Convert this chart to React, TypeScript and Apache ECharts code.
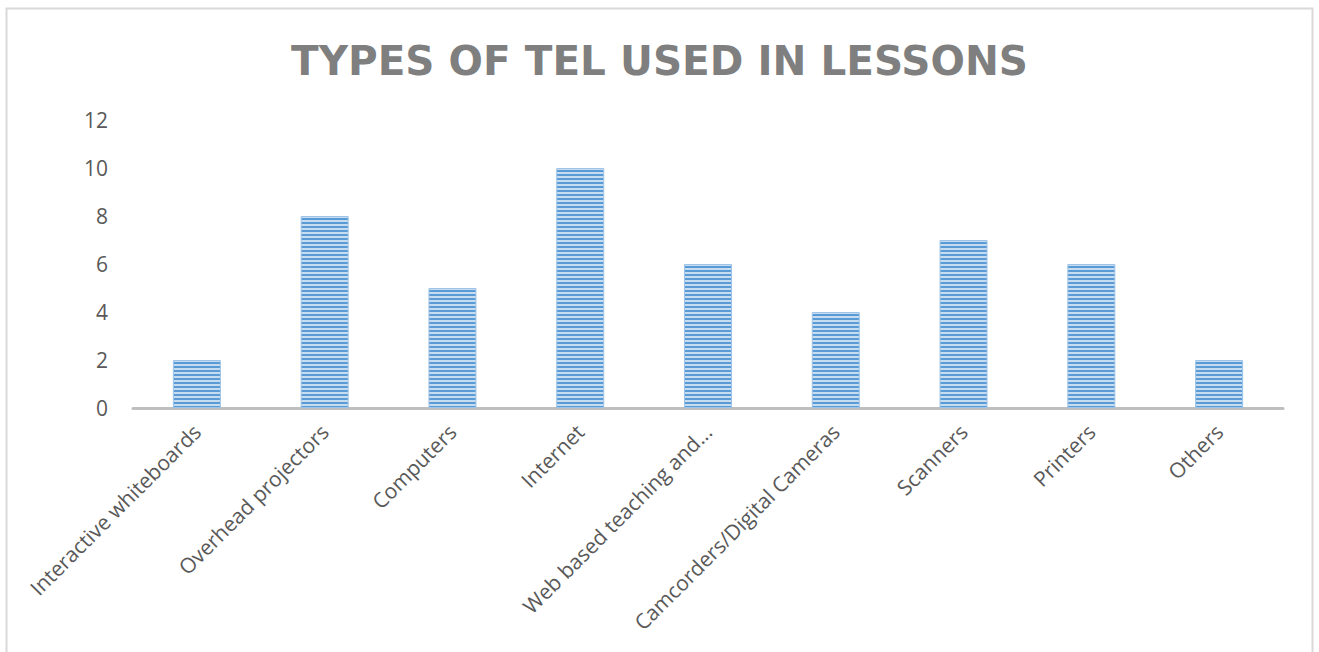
import React, { useEffect, useRef } from "react";
import * as echarts from "echarts";

const categories = [
  "Interactive whiteboards",
  "Overhead projectors",
  "Computers",
  "Internet",
  "Web based teaching and...",
  "Camcorders/Digital Cameras",
  "Scanners",
  "Printers",
  "Others",
];
const values = [2, 8, 5, 10, 6, 4, 7, 6, 2];
const titleText = "TYPES OF TEL USED IN LESSONS";

const W = 1319;
const H = 652;
const GRID = { left: 133, right: 36, top: 120, bottom: 244 };

function stripeGradient() {
  const top = GRID.top - 10;
  const bottom = H - GRID.bottom + 2;
  const period = 4;
  const stops: { offset: number; color: string }[] = [];
  const span = bottom - top;
  for (let y = 0; y < span; y += period) {
    const a = y / span;
    const b = Math.min((y + 2) / span, 1);
    const c = Math.min((y + period) / span, 1);
    stops.push({ offset: a, color: "#5b9bd5" });
    stops.push({ offset: b, color: "#5b9bd5" });
    stops.push({ offset: b, color: "#c5dcf1" });
    stops.push({ offset: c, color: "#c5dcf1" });
  }
  return new echarts.graphic.LinearGradient(0, top, 0, bottom, stops, true);
}

export default function App() {
  const ref = useRef<HTMLDivElement>(null);
  useEffect(() => {
    document.body.style.margin = "0";
    const chart = echarts.init(ref.current!, null, { renderer: "svg" });
    chart.setOption({
      animation: false,
      backgroundColor: "#ffffff",
      title: {
        text: titleText,
        left: "center",
        top: 35,
        textStyle: {
          fontFamily: "DejaVu Sans",
          fontWeight: "bold",
          fontSize: 40.5,
          color: "#7f7f7f",
        },
      },
      graphic: [
        {
          type: "rect",
          shape: { x: 6.5, y: 8.5, width: 1306, height: 660 },
          style: { fill: "none", stroke: "#d9d9d9", lineWidth: 2 },
          silent: true,
          z: -1,
        },
      ],
      grid: { ...GRID, containLabel: false },
      xAxis: {
        type: "category",
        data: categories,
        axisLine: { lineStyle: { color: "#bfbfbf", width: 3 } },
        axisTick: { show: false },
        axisLabel: {
          rotate: 45,
          interval: 0,
          margin: 20,
          color: "#595959",
          fontFamily: "Open Sans",
          fontSize: 21,
        },
      },
      yAxis: {
        type: "value",
        min: 0,
        max: 12,
        interval: 2,
        axisLine: { show: false },
        axisTick: { show: false },
        splitLine: { show: false },
        axisLabel: {
          color: "#595959",
          fontFamily: "Open Sans",
          fontSize: 21,
          margin: 25,
        },
      },
      series: [
        {
          type: "bar",
          data: values,
          barWidth: 48,
          itemStyle: {
            color: stripeGradient(),
            borderColor: "#9dc3e6",
            borderWidth: 1,
          },
        },
      ],
    });
    return () => chart.dispose();
  }, []);
  return <div ref={ref} style={{ width: W, height: H }} />;
}
